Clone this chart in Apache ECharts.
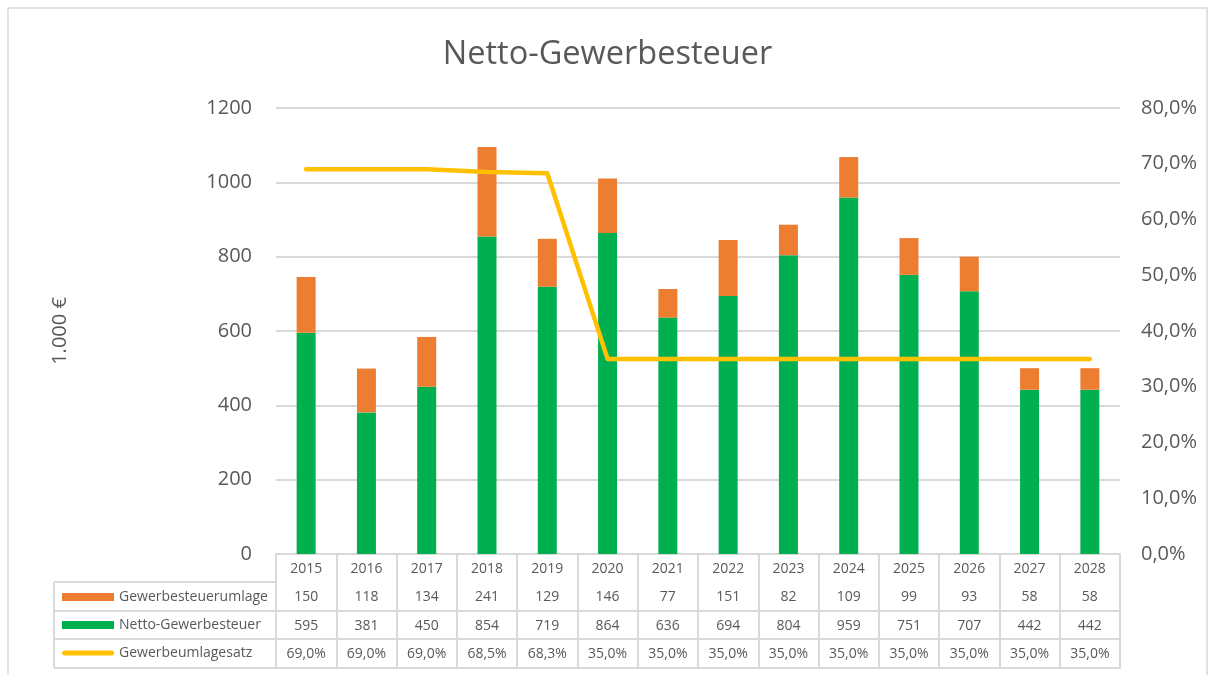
<!DOCTYPE html>
<html>
<head>
<meta charset="utf-8">
<script src="https://cdn.jsdelivr.net/npm/echarts@6/dist/echarts.min.js"></script>
<style>
html,body{margin:0;padding:0;background:#fff;}
#chart{width:1215px;height:675px;}
</style>
</head>
<body>
<div id="chart"></div>
<script>
const years = ['2015','2016','2017','2018','2019','2020','2021','2022','2023','2024','2025','2026','2027','2028'];
const umlage = [150,118,134,241,129,146,77,151,82,109,99,93,58,58];
const netto = [595,381,450,854,719,864,636,694,804,959,751,707,442,442];
const satz = [0.69,0.69,0.69,0.685,0.683,0.35,0.35,0.35,0.35,0.35,0.35,0.35,0.35,0.35];
const leftTicks = {min:0, max:1200, interval:200};
const rightTicks = {min:0, max:0.8, interval:0.1};

const FONT = 'Open Sans';
const TXT = '#595959';
const BORDER = '#d9d9d9';
const GRID = {left:276, right:95, top:108, bottom:121};
const ROW_OFFSETS = [28, 57, 85, 114];
const fmtPct = v => (v*100).toFixed(1).replace('.', ',') + '%';

function tableAxis(data, offset, showLabel, tickLen){
  return {
    type:'category', gridIndex:0, position:'bottom', offset:offset,
    data:data,
    axisLine:{show:true, lineStyle:{color:BORDER, width:2}},
    axisTick:{show:tickLen > 0, inside:true, interval:0, length:tickLen, lineStyle:{color:BORDER, width:2}},
    axisLabel:{show:showLabel, interval:0, margin:8, color:TXT, fontFamily:FONT, fontSize:14},
    splitLine:{show:false}
  };
}

// rounded line icon (5px thick inside an 8px-high legend box)
const LINE_ICON = 'path://M52,8 M0,0 M2.5,1.5 L49.5,1.5 A2.5,2.5 0 0 1 49.5,6.5 L2.5,6.5 A2.5,2.5 0 0 1 2.5,1.5 Z';

const chart = echarts.init(document.getElementById('chart'), null, {renderer:'canvas'});
const option = {
  backgroundColor:'#fff',
  animation:false,
  title:{
    text:'Netto-Gewerbesteuer', left:'center', top:33,
    textStyle:{color:TXT, fontFamily:FONT, fontSize:32.5, fontWeight:'normal'}
  },
  legend:{
    orient:'vertical', left:57, top:585, itemWidth:52, itemHeight:8, itemGap:14,
    textStyle:{color:TXT, fontFamily:FONT, fontSize:14},
    data:[
      {name:'Gewerbesteuerumlage', icon:'rect'},
      {name:'Netto-Gewerbesteuer', icon:'rect'},
      {name:'Gewerbeumlagesatz', icon:LINE_ICON, itemStyle:{color:'#FFC000'}}
    ],
    selectedMode:false
  },
  grid:GRID,
  xAxis:[
    tableAxis(years, 0, true, 0),
    tableAxis(umlage.map(String), ROW_OFFSETS[0], true, 0),
    tableAxis(netto.map(String), ROW_OFFSETS[1], true, 0),
    tableAxis(satz.map(fmtPct), ROW_OFFSETS[2], true, 0),
    tableAxis(years, ROW_OFFSETS[3], false, ROW_OFFSETS[3])
  ],
  yAxis:[
    {
      type:'value', min:leftTicks.min, max:leftTicks.max, interval:leftTicks.interval,
      name:'1.000 €', nameLocation:'middle', nameRotate:90, nameGap:206,
      nameTextStyle:{color:TXT, fontFamily:FONT, fontSize:20},
      axisLine:{show:false}, axisTick:{show:false},
      axisLabel:{color:TXT, fontFamily:FONT, fontSize:20, margin:24, formatter:v => String(v)},
      splitLine:{show:true, lineStyle:{color:BORDER, width:2}}
    },
    {
      type:'value', min:rightTicks.min, max:rightTicks.max, interval:rightTicks.interval,
      position:'right',
      axisLine:{show:false}, axisTick:{show:false},
      axisLabel:{color:TXT, fontFamily:FONT, fontSize:20, margin:21, formatter:fmtPct},
      splitLine:{show:false}
    }
  ],
  series:[
    {
      name:'Netto-Gewerbesteuer', type:'bar', stack:'total', xAxisIndex:0, yAxisIndex:0,
      data:netto, barWidth:19, itemStyle:{color:'#00B050'}
    },
    {
      name:'Gewerbesteuerumlage', type:'bar', stack:'total', xAxisIndex:0, yAxisIndex:0,
      data:umlage, barWidth:19, itemStyle:{color:'#ED7D31'}
    },
    {
      name:'Gewerbeumlagesatz', type:'line', xAxisIndex:0, yAxisIndex:1,
      data:satz, symbol:'none', itemStyle:{color:'#FFC000'},
      lineStyle:{color:'#FFC000', width:4.5, cap:'round', join:'round'}, z:5
    }
  ],
  graphic:[
    {type:'rect', shape:{x:8, y:8, width:1199, height:680}, style:{fill:'none', stroke:BORDER, lineWidth:1.5}, silent:true}
  ]
};
chart.setOption(option);

// left label column of the data table, aligned to the grid
const tableTop = 675 - GRID.bottom;
const rowLines = ROW_OFFSETS.map(o => tableTop + o);
const leftX = 54;
const g = [option.graphic[0]];
rowLines.forEach(y => g.push({type:'line', shape:{x1:leftX, y1:y, x2:GRID.left, y2:y}, style:{stroke:BORDER, lineWidth:2}, silent:true}));
g.push({type:'line', shape:{x1:leftX, y1:rowLines[0], x2:leftX, y2:rowLines[rowLines.length-1]}, style:{stroke:BORDER, lineWidth:2}, silent:true});
chart.setOption({graphic:g});
</script>
</body>
</html>
